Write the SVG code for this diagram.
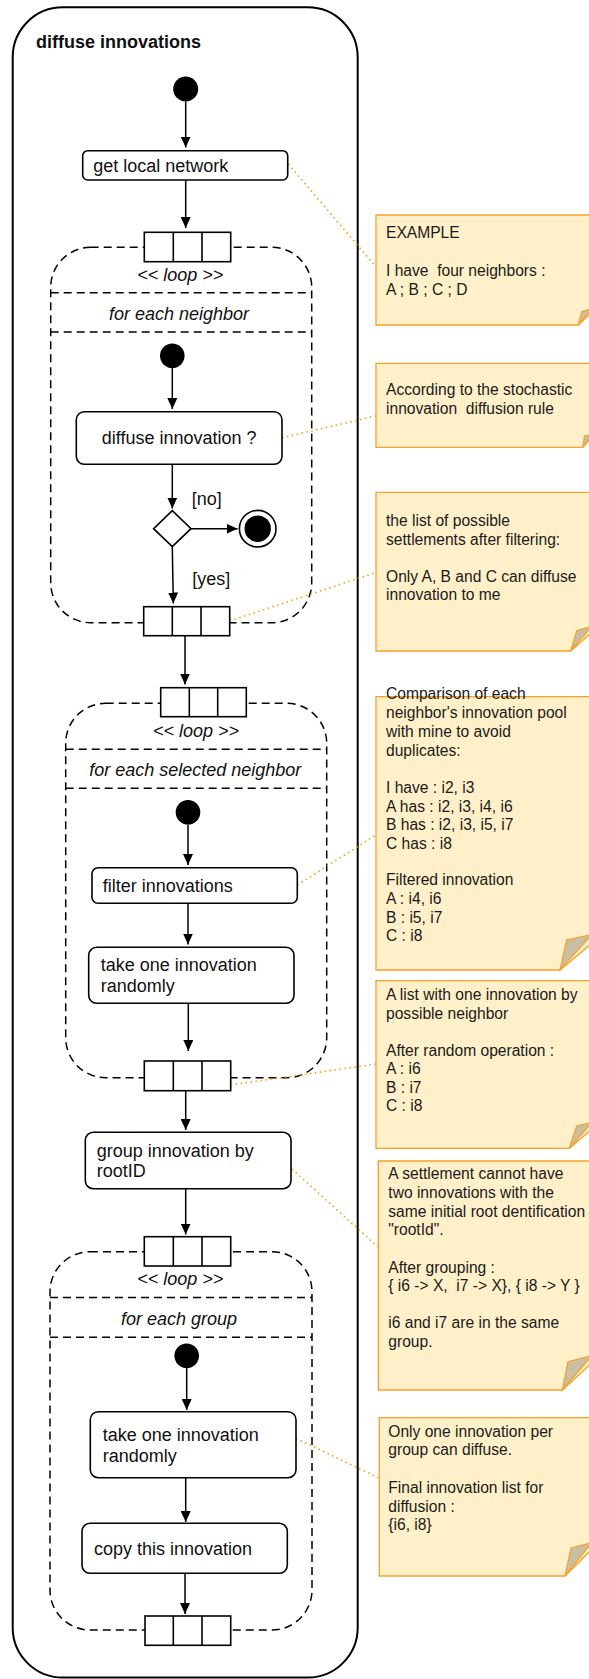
<svg xmlns="http://www.w3.org/2000/svg" width="589" height="1679" viewBox="0 0 589 1679">
<style>
  .frame{fill:#fff;stroke:#000;stroke-width:2}
  .node{fill:#fff;stroke:#000;stroke-width:1.6}
  .loop{fill:none;stroke:#000;stroke-width:1.5;stroke-dasharray:8 5}
  .bar{fill:#fff;stroke:#000;stroke-width:1.6}
  .edge{fill:none;stroke:#000;stroke-width:1.5}
  .link{fill:none;stroke:#FF9900;stroke-width:1.6;stroke-dasharray:1.5 3.5}
  .note{fill:#FFF0C9;stroke:#F5A02A;stroke-width:1.3}
  .fold{fill:#C9BFA3;stroke:#F5A02A;stroke-width:1.2}
  .t{font-family:"Liberation Sans",Arial,sans-serif;font-size:18px;fill:#111}
  .ti{font-family:"Liberation Sans",Arial,sans-serif;font-size:18px;font-style:italic;fill:#111}
  .tb{font-family:"Liberation Sans",Arial,sans-serif;font-size:18px;font-weight:bold;fill:#111}
  .nt{font-family:"Liberation Sans",Arial,sans-serif;font-size:15.6px;fill:#1a1a1a;white-space:pre}
</style>
<defs>
  <marker id="arr" markerUnits="userSpaceOnUse" markerWidth="11" markerHeight="10" refX="11" refY="5" orient="auto">
    <path d="M0,0 L11,5 L0,10 z" fill="#000"/>
  </marker>
</defs>

<g id="activity">
  <rect class="frame" x="12.7" y="7.3" width="345" height="1670.2" rx="50" ry="50"/>
  <text class="tb" x="36" y="48">diffuse innovations</text>
</g>

<g id="loop1">
  <rect class="loop" x="50.7" y="247.3" width="261" height="375.4" rx="40" ry="40"/>
  <line class="loop" x1="50.7" y1="292.7" x2="311.7" y2="292.7"/>
  <line class="loop" x1="50.7" y1="332" x2="311.7" y2="332"/>
  <text class="ti" x="180.3" y="281" text-anchor="middle">&lt;&lt; loop &gt;&gt;</text>
  <text class="ti" x="179" y="320" text-anchor="middle">for each neighbor</text>
</g>
<g id="loop2">
  <rect class="loop" x="65.7" y="703.3" width="261" height="374.4" rx="40" ry="40"/>
  <line class="loop" x1="65.7" y1="749.3" x2="326.7" y2="749.3"/>
  <line class="loop" x1="65.7" y1="788.3" x2="326.7" y2="788.3"/>
  <text class="ti" x="196" y="736.7" text-anchor="middle">&lt;&lt; loop &gt;&gt;</text>
  <text class="ti" x="195.3" y="776" text-anchor="middle">for each selected neighbor</text>
</g>
<g id="loop3">
  <rect class="loop" x="50" y="1251.7" width="262" height="378.3" rx="40" ry="40"/>
  <line class="loop" x1="50" y1="1297.5" x2="312" y2="1297.5"/>
  <line class="loop" x1="50" y1="1337.3" x2="312" y2="1337.3"/>
  <text class="ti" x="180.3" y="1285" text-anchor="middle">&lt;&lt; loop &gt;&gt;</text>
  <text class="ti" x="179" y="1325" text-anchor="middle">for each group</text>
</g>

<g id="connectors">
  <line class="edge" x1="185.7" y1="101.5" x2="185.7" y2="147.5" marker-end="url(#arr)"/>
  <line class="edge" x1="185.7" y1="180" x2="185.7" y2="228" marker-end="url(#arr)"/>
  <line class="edge" x1="172.3" y1="368" x2="172.3" y2="409" marker-end="url(#arr)"/>
  <line class="edge" x1="172.3" y1="464.3" x2="172.3" y2="508.5" marker-end="url(#arr)"/>
  <line class="edge" x1="191" y1="528.7" x2="237.5" y2="528.7" marker-end="url(#arr)"/>
  <line class="edge" x1="172.3" y1="546.7" x2="173.3" y2="603.5" marker-end="url(#arr)"/>
  <line class="edge" x1="185" y1="635.7" x2="185" y2="684.5" marker-end="url(#arr)"/>
  <line class="edge" x1="188" y1="824.6" x2="188" y2="865" marker-end="url(#arr)"/>
  <line class="edge" x1="188" y1="903.3" x2="188" y2="944.5" marker-end="url(#arr)"/>
  <line class="edge" x1="188.3" y1="1003.3" x2="188.3" y2="1051" marker-end="url(#arr)"/>
  <line class="edge" x1="185.7" y1="1090.7" x2="185.7" y2="1130" marker-end="url(#arr)"/>
  <line class="edge" x1="185.7" y1="1188.7" x2="185.7" y2="1234.5" marker-end="url(#arr)"/>
  <line class="edge" x1="186.7" y1="1368" x2="186.7" y2="1410" marker-end="url(#arr)"/>
  <line class="edge" x1="185.7" y1="1477.7" x2="185.7" y2="1522" marker-end="url(#arr)"/>
  <line class="edge" x1="185" y1="1573.3" x2="185" y2="1614" marker-end="url(#arr)"/>
  <line class="link" x1="288.3" y1="164" x2="388" y2="281"/>
  <line class="link" x1="282" y1="437.7" x2="376" y2="416"/>
  <line class="link" x1="229.7" y1="621" x2="376" y2="572.5"/>
  <line class="link" x1="297.3" y1="885" x2="376" y2="835"/>
  <line class="link" x1="230.7" y1="1085" x2="376" y2="1064"/>
  <line class="link" x1="288.3" y1="1165.7" x2="378" y2="1247"/>
  <line class="link" x1="296" y1="1438.3" x2="379" y2="1478"/>
</g>

<g id="start1"><circle cx="185.7" cy="89" r="12.5" fill="#000"/></g>
<g id="getLocalNetwork">
  <rect class="node" x="82.7" y="150.7" width="205" height="29.3" rx="5"/>
  <text class="t" x="93.3" y="172.3">get local network</text>
</g>
<g id="fork1">
  <rect class="bar" x="144.3" y="232.3" width="86.4" height="29.4"/>
  <line class="bar" x1="173.3" y1="232.3" x2="173.3" y2="261.7"/>
  <line class="bar" x1="202" y1="232.3" x2="202" y2="261.7"/>
</g>
<g id="start2"><circle cx="172.3" cy="355.7" r="12.3" fill="#000"/></g>
<g id="diffuseInnovation">
  <rect class="node" x="76.3" y="411.7" width="205.7" height="52.6" rx="8"/>
  <text class="t" x="179.2" y="444.3" text-anchor="middle">diffuse innovation ?</text>
</g>
<g id="decision">
  <polygon class="node" points="172.3,510.7 191,528.7 172.3,546.7 153.6,528.7"/>
  <text class="t" x="191.7" y="505">[no]</text>
  <text class="t" x="192.3" y="585">[yes]</text>
</g>
<g id="final">
  <circle cx="257.7" cy="528.7" r="18.3" fill="#fff" stroke="#000" stroke-width="1.6"/>
  <circle cx="257.7" cy="528.7" r="13.2" fill="#000"/>
</g>
<g id="join1">
  <rect class="bar" x="143.7" y="606.7" width="86" height="29"/>
  <line class="bar" x1="172.3" y1="606.7" x2="172.3" y2="635.7"/>
  <line class="bar" x1="201" y1="606.7" x2="201" y2="635.7"/>
</g>
<g id="fork2">
  <rect class="bar" x="160.7" y="687.7" width="85.6" height="29"/>
  <line class="bar" x1="189.3" y1="687.7" x2="189.3" y2="716.7"/>
  <line class="bar" x1="217.7" y1="687.7" x2="217.7" y2="716.7"/>
</g>
<g id="start3"><circle cx="188" cy="812.3" r="12.3" fill="#000"/></g>
<g id="filterInnovations">
  <rect class="node" x="92" y="867.7" width="205.3" height="35.6" rx="6"/>
  <text class="t" x="102.7" y="892.3">filter innovations</text>
</g>
<g id="takeOne1">
  <rect class="node" x="88.7" y="947.3" width="205.3" height="56" rx="8"/>
  <text class="t" x="100.7" y="971">take one innovation</text>
  <text class="t" x="100.7" y="992.3">randomly</text>
</g>
<g id="join2">
  <rect class="bar" x="144.3" y="1061" width="86.4" height="29.7"/>
  <line class="bar" x1="173.3" y1="1061" x2="173.3" y2="1090.7"/>
  <line class="bar" x1="202" y1="1061" x2="202" y2="1090.7"/>
</g>
<g id="groupInnovation">
  <rect class="node" x="85.3" y="1132.3" width="205.7" height="56.4" rx="8"/>
  <text class="t" x="96.7" y="1156.7">group innovation by</text>
  <text class="t" x="96.7" y="1177.3">rootID</text>
</g>
<g id="fork3">
  <rect class="bar" x="144.3" y="1236.7" width="86.4" height="29.3"/>
  <line class="bar" x1="173.3" y1="1236.7" x2="173.3" y2="1266"/>
  <line class="bar" x1="202" y1="1236.7" x2="202" y2="1266"/>
</g>
<g id="start4"><circle cx="186.7" cy="1355.7" r="12.3" fill="#000"/></g>
<g id="takeOne2">
  <rect class="node" x="90.3" y="1411.7" width="205.7" height="66" rx="8"/>
  <text class="t" x="102.7" y="1440.7">take one innovation</text>
  <text class="t" x="102.7" y="1461.7">randomly</text>
</g>
<g id="copyInnovation">
  <rect class="node" x="82" y="1523.3" width="205.3" height="50" rx="8"/>
  <text class="t" x="94" y="1555">copy this innovation</text>
</g>
<g id="join3">
  <rect class="bar" x="145" y="1616" width="85.7" height="29.3"/>
  <line class="bar" x1="173.3" y1="1616" x2="173.3" y2="1645.3"/>
  <line class="bar" x1="202" y1="1616" x2="202" y2="1645.3"/>
</g>

<g id="note1">
  <path class="note" d="M376,215 H592 V312 L578.3,325 H376 Z"/>
  <path class="fold" d="M578.3,325 L581.7,311.7 L592,308.3 Z"/>
  <text class="nt" x="386" y="238.3">EXAMPLE</text>
  <text class="nt" x="386" y="276.3">I have  four neighbors :</text>
  <text class="nt" x="386" y="295.3">A ; B ; C ; D</text>
</g>
<g id="note2">
  <path class="note" d="M376,363.3 H592 V437 L582.7,447.3 H376 Z"/>
  <path class="fold" d="M582.7,447.3 L584.5,436 L592,435 Z"/>
  <text class="nt" x="386" y="395">According to the stochastic</text>
  <text class="nt" x="386" y="413.5">innovation  diffusion rule</text>
</g>
<g id="note3">
  <path class="note" d="M376,492.3 H592 V632 L570.7,651 H376 Z"/>
  <path class="fold" d="M570.7,651 L576.7,630.7 L592,626.2 Z"/>
  <text class="nt" x="386" y="526">the list of possible</text>
  <text class="nt" x="386" y="544.5">settlements after filtering:</text>
  <text class="nt" x="386" y="581.7">Only A, B and C can diffuse</text>
  <text class="nt" x="386" y="600">innovation to me</text>
</g>
<g id="note4">
  <path class="note" d="M376,696.7 H592 V943 L560,970 H376 Z"/>
  <path class="fold" d="M560,970 L566.7,940 L592,934.5 Z"/>
  <text class="nt" x="386" y="699">Comparison of each</text>
  <text class="nt" x="386" y="718">neighbor's innovation pool</text>
  <text class="nt" x="386" y="736.8">with mine to avoid</text>
  <text class="nt" x="386" y="755.6">duplicates:</text>
  <text class="nt" x="386" y="792.8">I have : i2, i3</text>
  <text class="nt" x="386" y="811.6">A has : i2, i3, i4, i6</text>
  <text class="nt" x="386" y="830.2">B has : i2, i3, i5, i7</text>
  <text class="nt" x="386" y="848.6">C has : i8</text>
  <text class="nt" x="386" y="885.2">Filtered innovation</text>
  <text class="nt" x="386" y="904">A : i4, i6</text>
  <text class="nt" x="386" y="922.6">B : i5, i7</text>
  <text class="nt" x="386" y="941.2">C : i8</text>
</g>
<g id="note5">
  <path class="note" d="M376,980.7 H592 V1129 L569.3,1148.3 H376 Z"/>
  <path class="fold" d="M569.3,1148.3 L576.7,1126 L592,1122.3 Z"/>
  <text class="nt" x="386" y="1000">A list with one innovation by</text>
  <text class="nt" x="386" y="1018.5">possible neighbor</text>
  <text class="nt" x="386" y="1056">After random operation :</text>
  <text class="nt" x="386" y="1074.4">A : i6</text>
  <text class="nt" x="386" y="1092.8">B : i7</text>
  <text class="nt" x="386" y="1111.2">C : i8</text>
</g>
<g id="note6">
  <path class="note" d="M378.3,1161 H592 V1363 L562.3,1390 H378.3 Z"/>
  <path class="fold" d="M562.3,1390 L568,1361.7 L592,1355.5 Z"/>
  <text class="nt" x="388.3" y="1179.3">A settlement cannot have</text>
  <text class="nt" x="388.3" y="1197.9">two innovations with the</text>
  <text class="nt" x="388.3" y="1216.5">same initial root dentification</text>
  <text class="nt" x="388.3" y="1235">"rootId".</text>
  <text class="nt" x="388.3" y="1272.5">After grouping :</text>
  <text class="nt" x="388.3" y="1291">{ i6 -&gt; X,  i7 -&gt; X}, { i8 -&gt; Y }</text>
  <text class="nt" x="388.3" y="1328.3">i6 and i7 are in the same</text>
  <text class="nt" x="388.3" y="1346.8">group.</text>
</g>
<g id="note7">
  <path class="note" d="M379.3,1417.7 H592 V1549 L565,1576 H379.3 Z"/>
  <path class="fold" d="M565,1576 L571,1548 L592,1542.5 Z"/>
  <text class="nt" x="388.3" y="1436.7">Only one innovation per</text>
  <text class="nt" x="388.3" y="1455.2">group can diffuse.</text>
  <text class="nt" x="388.3" y="1492.7">Final innovation list for</text>
  <text class="nt" x="388.3" y="1511.5">diffusion :</text>
  <text class="nt" x="388.3" y="1530">{i6, i8}</text>
</g>
</svg>
